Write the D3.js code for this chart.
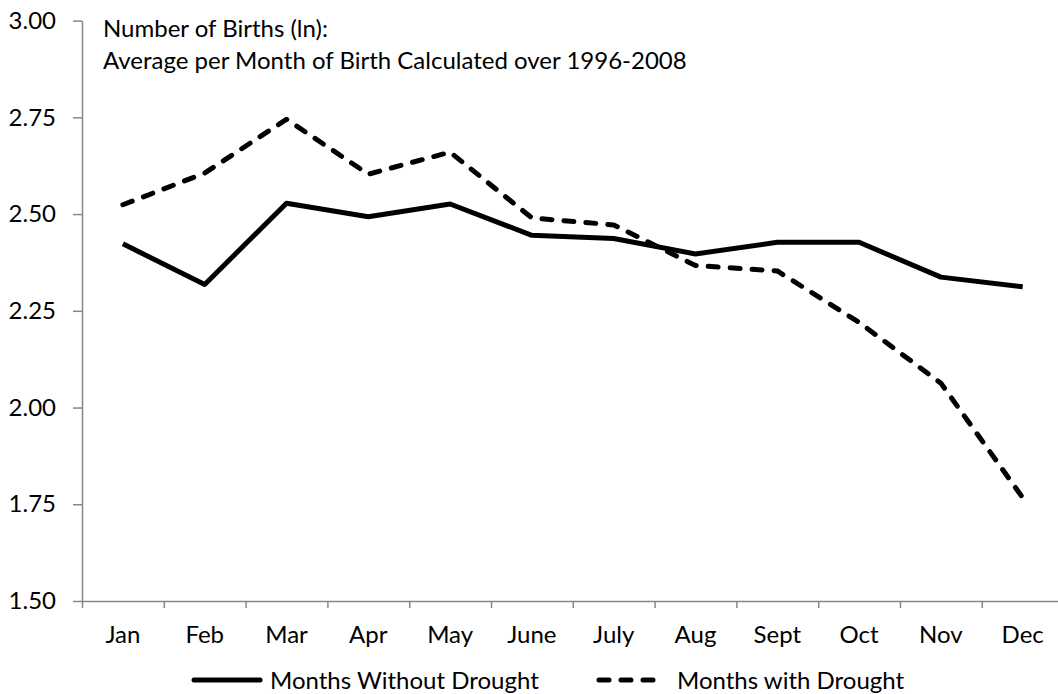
<!DOCTYPE html>
<html>
<head>
<meta charset="utf-8">
<script src="https://cdn.jsdelivr.net/npm/d3@7"></script>
<style>
  body { margin: 0; background: #fff; }
  svg text { font-family: Lato, "Noto Sans", sans-serif; fill: #000; }
  .axis path, .axis line { stroke: #878787; stroke-width: 1.5; }
</style>
</head>
<body>
<div id="chart"></div>
<script>
// Data
const months = ['Jan', 'Feb', 'Mar', 'Apr', 'May', 'June', 'July', 'Aug', 'Sept', 'Oct', 'Nov', 'Dec'];
const withoutDrought = [2.423, 2.318, 2.528, 2.493, 2.526, 2.445, 2.437, 2.397, 2.427, 2.427, 2.337, 2.312];
const withDrought = [2.524, 2.606, 2.745, 2.603, 2.660, 2.490, 2.472, 2.367, 2.353, 2.220, 2.063, 1.767];
const yTicks = [1.5, 1.75, 2.0, 2.25, 2.5, 2.75, 3.0];
const titleLines = ['Number of Births (ln):', 'Average per Month of Birth Calculated over 1996-2008'];
const seriesNames = ['Months Without Drought', 'Months with Drought'];

// Layout
const W = 1058, H = 694;
const margin = { top: 20.6, left: 82, bottom: 93 };
const plotW = 81.8 * 12;
const plotH = H - margin.top - margin.bottom;
const fontSize = 24;

const svg = d3.select('#chart')
    .append('svg')
    .attr('width', W)
    .attr('height', H);

const g = svg.append('g')
    .attr('transform', `translate(${margin.left},${margin.top})`);

const x = d3.scaleBand()
    .domain(months)
    .range([0, plotW])
    .padding(0);

// Edge scale for the tick marks between categories
const xEdge = d3.scaleLinear()
    .domain([0, months.length])
    .range([0, plotW]);

const y = d3.scaleLinear()
    .domain([1.5, 3.0])
    .range([plotH, 0]);

// Y axis
const yAxis = g.append('g')
    .attr('class', 'axis')
    .call(d3.axisLeft(y)
        .tickValues(yTicks)
        .tickFormat(d3.format('.2f'))
        .tickSize(9)
        .tickSizeOuter(0)
        .tickPadding(17));
yAxis.selectAll('text')
    .style('font-size', fontSize + 'px')
    .style('font-family', 'Lato, sans-serif')
    .attr('fill', '#000');

// X axis: tick marks at category edges
g.append('g')
    .attr('class', 'axis')
    .attr('transform', `translate(0,${plotH})`)
    .call(d3.axisBottom(xEdge)
        .tickValues(d3.range(months.length + 1))
        .tickFormat('')
        .tickSize(7)
        .tickSizeOuter(0));

// X axis labels at category centres
const xLabels = g.append('g')
    .attr('transform', `translate(0,${plotH})`)
    .call(d3.axisBottom(x).tickSize(0).tickPadding(25));
xLabels.select('.domain').remove();
xLabels.selectAll('text')
    .style('font-size', fontSize + 'px')
    .style('font-family', 'Lato, sans-serif')
    .attr('fill', '#000');

// Lines
const line = d3.line()
    .x((d, i) => x(months[i]) + x.bandwidth() / 2)
    .y(d => y(d));

g.append('path')
    .datum(withoutDrought)
    .attr('fill', 'none')
    .attr('stroke', '#000')
    .attr('stroke-width', 5)
    .attr('stroke-linejoin', 'round')
    .attr('d', line);

g.append('path')
    .datum(withDrought)
    .attr('fill', 'none')
    .attr('stroke', '#000')
    .attr('stroke-width', 5)
    .attr('stroke-linecap', 'round')
    .attr('stroke-linejoin', 'round')
    .attr('stroke-dasharray', '10,12')
    .attr('d', line);

// Title inside plot
const title = svg.append('text')
    .attr('x', 103)
    .attr('y', 37)
    .style('font-size', fontSize + 'px');
title.selectAll('tspan')
    .data(titleLines)
    .join('tspan')
    .attr('x', 103)
    .attr('dy', (d, i) => i === 0 ? 0 : 32)
    .text(d => d);

// Legend
const legend = svg.append('g');
const legendItems = [
    { name: seriesNames[0], x1: 194, x2: 260, tx: 270, dash: null },
    { name: seriesNames[1], x1: 599, x2: 655, tx: 677, dash: '10,12' }
];
legendItems.forEach(item => {
    legend.append('line')
        .attr('x1', item.x1)
        .attr('x2', item.x2)
        .attr('y1', 680)
        .attr('y2', 680)
        .attr('stroke', '#000')
        .attr('stroke-width', 5)
        .attr('stroke-linecap', 'round')
        .attr('stroke-dasharray', item.dash);
    legend.append('text')
        .attr('x', item.tx)
        .attr('y', 689)
        .style('font-size', fontSize + 'px')
        .text(item.name);
});
</script>
</body>
</html>
